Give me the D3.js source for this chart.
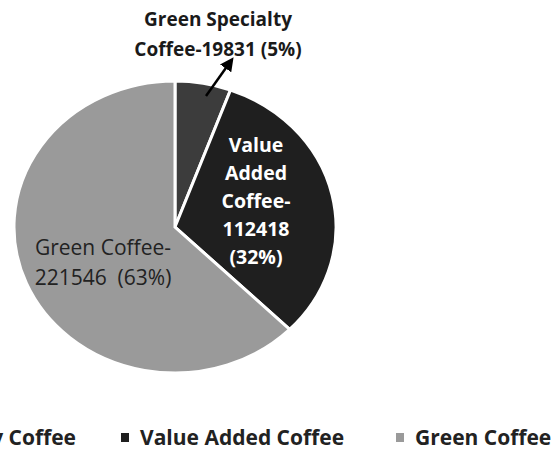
<!DOCTYPE html>
<html>
<head>
<meta charset="utf-8">
<script src="https://cdn.jsdelivr.net/npm/d3@7"></script>
<style>
  html, body { margin: 0; padding: 0; background: #fff; }
  svg { display: block; }
</style>
</head>
<body>
<svg id="chart" width="556" height="460"></svg>
<script>
// ---- data ----
const categories = ["Green Specialty Coffee", "Value Added Coffee", "Green Coffee"];
const values = [19831, 112418, 221546];
const percents = ["5%", "32%", "63%"];
const colors = ["#3c3c3c", "#1f1f1f", "#9a9a9a"];

const svg = d3.select("#chart");
const cx = 175, cy = 227, rx = 161, ry = 146;
const font = "'Open Sans', 'DejaVu Sans', sans-serif";

const pie = d3.pie().sort(null).value(d => d)(values);
const arc = d3.arc().innerRadius(0).outerRadius(ry);

const g = svg.append("g").attr("transform", `translate(${cx},${cy}) scale(${rx / ry},1)`);
g.selectAll("path.slice").data(pie).join("path")
  .attr("class", "slice")
  .attr("d", arc)
  .attr("fill", (d, i) => colors[i])
  .attr("stroke", "#fff")
  .attr("stroke-width", 3)
  .attr("stroke-linejoin", "miter")
  .attr("vector-effect", "non-scaling-stroke");

// ---- labels ----
function multiline(x, y, lines, lh, opts) {
  const t = svg.append("text")
    .attr("x", x).attr("y", y)
    .attr("text-anchor", "middle")
    .attr("font-family", font)
    .attr("font-size", opts.size)
    .attr("font-weight", opts.weight)
    .attr("fill", opts.fill);
  lines.forEach((l, i) => {
    t.append("tspan").attr("x", x).attr("y", y + i * lh).attr("xml:space", "preserve").text(l);
  });
}

const fmt = v => String(v);
// Green Specialty (outside, with arrow)
multiline(218, 26, ["Green Specialty", "Coffee-" + fmt(values[0]) + " (" + percents[0] + ")"], 30,
  { size: 19, weight: 700, fill: "#1a1a1a" });
// Value Added (inside)
multiline(256, 152, ["Value", "Added", "Coffee-", fmt(values[1]), "(" + percents[1] + ")"], 28,
  { size: 19.5, weight: 700, fill: "#ffffff" });
// Green Coffee (inside)
multiline(103, 255, ["Green Coffee-", fmt(values[2]) + "  (" + percents[2] + ")"], 30,
  { size: 21, weight: 400, fill: "#222222" });

// arrow
svg.append("defs").append("marker")
  .attr("id", "ah").attr("viewBox", "0 0 10 10")
  .attr("refX", 3).attr("refY", 5)
  .attr("markerWidth", 5.5).attr("markerHeight", 5.5)
  .attr("markerUnits", "strokeWidth")
  .attr("orient", "auto")
  .append("path").attr("d", "M0,0 L10,5 L0,10 Z").attr("fill", "#000");
svg.append("line")
  .attr("x1", 206).attr("y1", 96).attr("x2", 228).attr("y2", 65)
  .attr("stroke", "#000").attr("stroke-width", 2.5)
  .attr("marker-end", "url(#ah)");

// ---- legend ----
const legendY = 445;
const legendX = [null, 140, 415];
const leg = svg.append("g").attr("font-family", font).attr("font-size", 21).attr("font-weight", 700).attr("fill", "#222");
categories.forEach((c, i) => {
  const t = leg.append("text").attr("y", legendY).text(c);
  let xs;
  if (i === 0) {
    t.attr("text-anchor", "end").attr("x", 76);
    xs = 76 - t.node().getComputedTextLength();
  } else {
    t.attr("x", legendX[i]);
    xs = legendX[i];
  }
  leg.append("rect")
    .attr("x", xs - 19).attr("y", legendY - 12)
    .attr("width", 8).attr("height", 9)
    .attr("fill", colors[i]);
});
</script>
</body>
</html>
